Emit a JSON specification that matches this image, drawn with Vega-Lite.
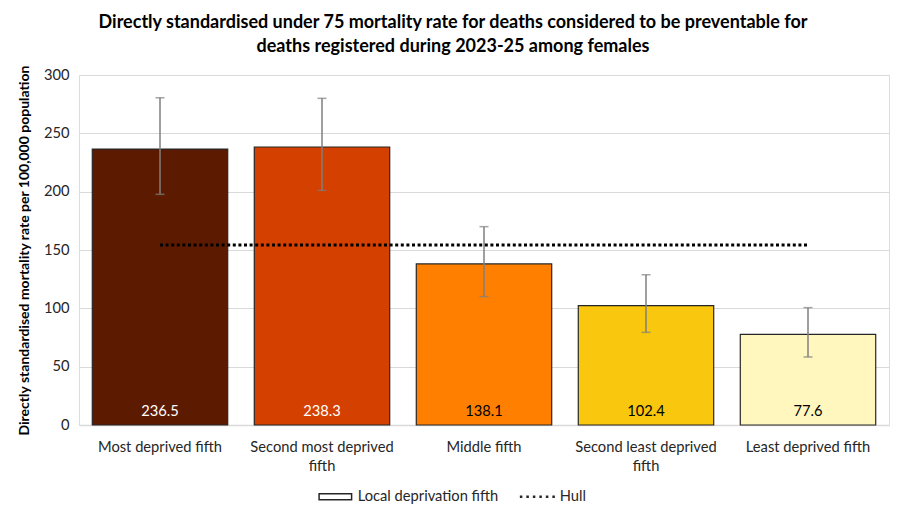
{
  "$schema": "https://vega.github.io/schema/vega-lite/v6.json",
  "autosize": {"type": "none"},
  "width": 810,
  "height": 350,
  "padding": {"left": 79, "top": 75, "right": 13, "bottom": 94},
  "background": "white",
  "title": {
    "text": [
      "Directly standardised under 75 mortality rate for deaths considered to be preventable for",
      "deaths registered during 2023-25 among females"
    ],
    "font": "Lato",
    "fontSize": 18,
    "fontWeight": "bold",
    "color": "#000000",
    "lineHeight": 24,
    "anchor": "middle",
    "frame": "group",
    "dx": -31,
    "offset": 9
  },
  "data": {
    "values": [
      {"fifth": "Most deprived fifth", "rate": 236.5, "lower": 197.7, "upper": 280.5, "hull": 154.3},
      {"fifth": "Second most deprived fifth", "rate": 238.3, "lower": 201.1, "upper": 280.0, "hull": 154.3},
      {"fifth": "Middle fifth", "rate": 138.1, "lower": 110.0, "upper": 170.0, "hull": 154.3},
      {"fifth": "Second least deprived fifth", "rate": 102.4, "lower": 79.4, "upper": 128.8, "hull": 154.3},
      {"fifth": "Least deprived fifth", "rate": 77.6, "lower": 58.3, "upper": 100.6, "hull": 154.3}
    ]
  },
  "encoding": {
    "x": {
      "field": "fifth",
      "type": "nominal",
      "sort": null,
      "scale": {"paddingInner": 0.164, "paddingOuter": 0.082},
      "axis": {
        "title": null,
        "labelAngle": 0,
        "labelFont": "Lato",
        "labelFontSize": 14.7,
        "labelColor": "#262626",
        "labelPadding": 14,
        "labelLineHeight": 19,
        "labelExpr": "datum.value == 'Second most deprived fifth' ? ['Second most deprived', 'fifth'] : datum.value == 'Second least deprived fifth' ? ['Second least deprived', 'fifth'] : datum.value",
        "ticks": false,
        "domainColor": "#D9D9D9",
        "domainWidth": 1.5
      }
    }
  },
  "layer": [
    {
      "mark": {"type": "bar", "stroke": "#262626", "strokeWidth": 1.2},
      "encoding": {
        "y": {
          "field": "rate",
          "type": "quantitative",
          "title": "Directly standardised mortality rate per 100,000 population",
          "scale": {"domain": [0, 300]},
          "axis": {
            "titleFont": "Lato",
            "titleFontSize": 14,
            "titleFontWeight": "bold",
            "titleColor": "#000000",
            "titlePadding": 12,
            "values": [0, 50, 100, 150, 200, 250, 300],
            "labelFont": "Lato",
            "labelFontSize": 14.7,
            "labelColor": "#262626",
            "labelPadding": 10,
            "ticks": false,
            "domain": false,
            "gridColor": "#D9D9D9",
            "gridWidth": 1.2
          }
        },
        "color": {
          "field": "fifth",
          "type": "nominal",
          "sort": null,
          "scale": {
            "domain": ["Most deprived fifth", "Second most deprived fifth", "Middle fifth", "Second least deprived fifth", "Least deprived fifth"],
            "range": ["#5C1B00", "#D44000", "#FF8000", "#F8C70E", "#FFF7BE"]
          },
          "legend": null
        }
      }
    },
    {
      "mark": {"type": "text", "font": "Lato", "fontSize": 14.7, "dy": -13},
      "encoding": {
        "y": {"datum": 0},
        "text": {"field": "rate", "type": "quantitative", "format": ".1f"},
        "color": {
          "condition": {"test": "datum.rate > 200", "value": "#FFFFFF"},
          "value": "#000000"
        }
      }
    },
    {
      "mark": {"type": "errorbar", "color": "#7F7F7F", "thickness": 1.5, "ticks": {"size": 9, "color": "#7F7F7F", "thickness": 1.5}},
      "encoding": {
        "y": {"field": "lower", "type": "quantitative", "title": "Directly standardised mortality rate per 100,000 population"},
        "y2": {"field": "upper"}
      }
    },
    {
      "mark": {"type": "line", "color": "#000000", "strokeWidth": 3, "strokeDash": [3, 2.6]},
      "encoding": {
        "y": {"field": "hull", "type": "quantitative", "title": "Directly standardised mortality rate per 100,000 population"}
      }
    },
    {
      "data": {
        "values": [
          {"series": "Local deprivation fifth"},
          {"series": "Hull"}
        ]
      },
      "mark": {"type": "point", "filled": true, "opacity": 0, "size": 1, "color": "#262626"},
      "encoding": {
        "x": {"datum": "Middle fifth"},
        "y": {"datum": 0},
        "shape": {
          "field": "series",
          "type": "nominal",
          "scale": {
            "domain": ["Local deprivation fifth", "Hull"],
            "range": [
              "M-3.4,-0.75L3.4,-0.75L3.4,0.75L-3.4,0.75Z M-3.1,-0.45L-3.1,0.45L3.1,0.45L3.1,-0.45Z",
              "M-3.5,-0.25L-3,-0.25L-3,0.25L-3.5,0.25Z M-2.2,-0.25L-1.7,-0.25L-1.7,0.25L-2.2,0.25Z M-0.9,-0.25L-0.4,-0.25L-0.4,0.25L-0.9,0.25Z M0.4,-0.25L0.9,-0.25L0.9,0.25L0.4,0.25Z M1.7,-0.25L2.2,-0.25L2.2,0.25L1.7,0.25Z M3,-0.25L3.5,-0.25L3.5,0.25L3,0.25Z"
            ]
          },
          "legend": {
            "title": null,
            "orient": "none",
            "direction": "horizontal",
            "legendX": 249,
            "legendY": 414,
            "symbolSize": 100,
            "symbolOpacity": 1,
            "symbolFillColor": "#262626",
            "symbolStrokeWidth": 0,
            "labelFont": "Lato",
            "labelFontSize": 14.7,
            "labelColor": "#262626",
            "labelOffset": 15,
            "columnPadding": 20
          }
        }
      }
    }
  ]
}
